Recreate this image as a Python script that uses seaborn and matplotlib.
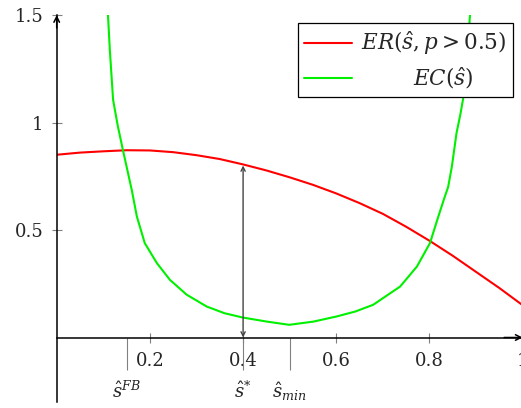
import numpy as np
import pandas as pd
import seaborn as sns
import matplotlib
matplotlib.use("Agg")
import matplotlib.pyplot as plt

# ---- data ----
s_er = [0.0, 0.05, 0.10, 0.15, 0.20, 0.25, 0.30, 0.35, 0.40, 0.45, 0.50,
        0.55, 0.60, 0.65, 0.70, 0.75, 0.80, 0.85, 0.90, 0.95, 1.0]
er = [0.850, 0.860, 0.866, 0.871, 0.870, 0.862, 0.848, 0.830, 0.805, 0.777, 0.745,
      0.710, 0.670, 0.625, 0.575, 0.515, 0.450, 0.380, 0.305, 0.230, 0.150]

s_ec = [0.110, 0.114, 0.121, 0.131, 0.142, 0.152, 0.161, 0.172, 0.189, 0.215,
        0.243, 0.279, 0.322, 0.360, 0.399, 0.451, 0.499, 0.551, 0.601, 0.641,
        0.679, 0.737, 0.773, 0.801, 0.819, 0.833, 0.840, 0.848, 0.858, 0.866,
        0.873, 0.880, 0.887]
ec = [1.501, 1.338, 1.106, 0.985, 0.873, 0.775, 0.687, 0.563, 0.439, 0.346,
      0.268, 0.199, 0.144, 0.113, 0.093, 0.074, 0.059, 0.074, 0.098, 0.121,
      0.152, 0.237, 0.330, 0.439, 0.563, 0.656, 0.700, 0.795, 0.951, 1.035,
      1.121, 1.307, 1.501]

x_ticks = [0.2, 0.4, 0.6, 0.8, 1.0]
x_tick_labels = ["0.2", "0.4", "0.6", "0.8", "1"]
y_ticks = [0.5, 1.0, 1.5]
y_tick_labels = ["0.5", "1", "1.5"]
mark_pos = [0.15, 0.4, 0.5]
mark_labels = [r"$\hat{s}^{FB}$", r"$\hat{s}^{*}$", r"$\hat{s}_{min}$"]
s_star = 0.4
er_star = 0.80
legend_labels = [r"$ER(\hat{s}, p > 0.5)$", r"$\qquad\;\;EC(\hat{s})$"]

# ---- style ----
sns.set_style("white")
plt.rcParams["font.family"] = ["DejaVu Serif"]
plt.rcParams["mathtext.fontset"] = "dejavuserif"

W, H = 521, 408
fig = plt.figure(figsize=(W / 100, H / 100), dpi=100)
ax = fig.add_axes([56.7 / W, (H - 402) / H, 466 / W, 387 / H])

df_er = pd.DataFrame({"s": s_er, "v": er})
df_ec = pd.DataFrame({"s": s_ec, "v": ec})
sns.lineplot(data=df_er, x="s", y="v", color="#ff0000", lw=1.5,
             estimator=None, sort=False, label=legend_labels[0], ax=ax)
sns.lineplot(data=df_ec, x="s", y="v", color="#00f000", lw=1.5,
             estimator=None, sort=False, label=legend_labels[1], ax=ax)

ax.set_xlim(0, 1)
ax.set_ylim(-0.30, 1.5)
ax.set_xlabel("")
ax.set_ylabel("")

for side in ["top", "right"]:
    ax.spines[side].set_visible(False)
ax.spines["bottom"].set_position(("data", 0))
for side in ["left", "bottom"]:
    ax.spines[side].set_color("black")
    ax.spines[side].set_linewidth(1.1)

ax.xaxis.remove_overlapping_locs = False
ax.set_xticks(x_ticks)
ax.set_xticklabels(x_tick_labels)
ax.set_yticks(y_ticks)
ax.set_yticklabels(y_tick_labels)
ax.set_xticks(mark_pos, minor=True)
ax.set_xticklabels(mark_labels, minor=True)

ax.tick_params(axis="x", which="major", bottom=True, direction="inout", length=7,
               width=0.8, color="gray", labelsize=13, pad=7)
ax.tick_params(axis="y", which="major", left=True, direction="inout", length=7,
               width=0.8, color="gray", labelsize=13, pad=6)
ax.tick_params(axis="x", which="minor", bottom=True, direction="out", length=23,
               width=0.8, color="gray", labelsize=13, pad=8)

# axis arrows
ax.annotate("", xy=(1.0, 0), xytext=(0.96, 0),
            arrowprops=dict(arrowstyle="->,head_length=0.4,head_width=0.2",
                            color="black", lw=1.1, shrinkA=0, shrinkB=0),
            annotation_clip=False)
ax.annotate("", xy=(0, 1.5), xytext=(0, 1.44),
            arrowprops=dict(arrowstyle="->,head_length=0.4,head_width=0.2",
                            color="black", lw=1.1, shrinkA=0, shrinkB=0),
            annotation_clip=False)

# vertical double arrow at s*
ax.annotate("", xy=(s_star, er_star), xytext=(s_star, 0),
            arrowprops=dict(arrowstyle="<->,head_length=0.3,head_width=0.15",
                            color="#444444", lw=1.0, shrinkA=0, shrinkB=0))

leg = ax.legend(loc="upper right", bbox_to_anchor=(513.3 / W, 1 - 23.3 / H),
                bbox_transform=fig.transFigure, fontsize=15.5, frameon=True,
                fancybox=False, edgecolor="black", framealpha=1,
                handlelength=2.2, borderaxespad=0, borderpad=0.3,
                labelspacing=0.35, handletextpad=0.45)
leg.get_frame().set_linewidth(0.9)

fig.savefig("out.png", dpi=100)
